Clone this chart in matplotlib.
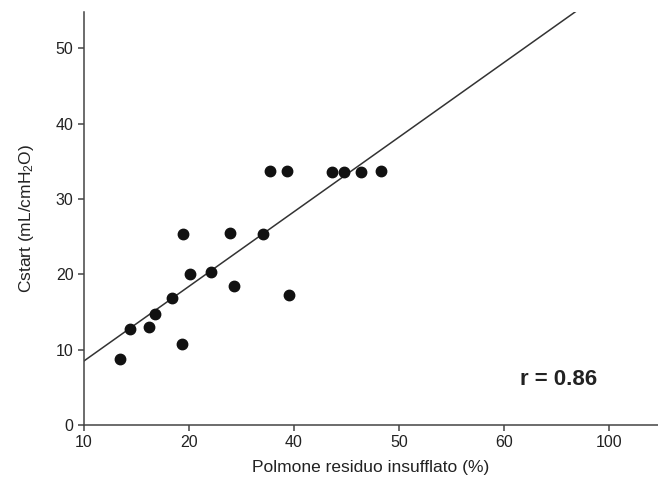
import matplotlib
matplotlib.use("Agg")
import matplotlib.pyplot as plt
from matplotlib import font_manager as fm
import numpy as np
import os

plt.rcParams['font.family'] = ['Liberation Sans', 'DejaVu Sans']
plt.rcParams['mathtext.default'] = 'regular'

# dati (asse x in posizione di tick, etichette come nell'originale)
polmone = [13.4, 14.4, 16.2, 16.8, 18.4, 19.3, 19.4, 20.1, 22.1, 23.9,
           24.3, 27.0, 27.7, 29.3, 29.5, 33.6, 34.8, 36.4, 38.3]
cstart = [8.7, 12.7, 13.0, 14.7, 16.8, 10.8, 25.3, 20.0, 20.3, 25.5,
          18.5, 25.3, 33.7, 33.7, 17.2, 33.5, 33.5, 33.5, 33.7]

xtick_pos = [10, 20, 30, 40, 50, 60]
xtick_labels = ['10', '20', '40', '50', '60', '100']
ytick_pos = [0, 10, 20, 30, 40, 50]

fit_slope = 0.99
fit_intercept = -1.4

# Liberation Sans Bold (evita la variante Narrow)
bold_fp = fm.FontProperties(family='DejaVu Sans', weight='bold')
for f in fm.fontManager.ttflist:
    base = os.path.basename(f.fname)
    if base.lower() == 'liberationsans-bold.ttf':
        bold_fp = fm.FontProperties(fname=f.fname)
        break
bold_fp.set_size(16)

fig = plt.figure(figsize=(6.58, 4.90), dpi=100)
ax = fig.add_axes([0.1277, 0.1327, 0.8723, 0.8429])

ax.plot(polmone, cstart, 'o', color='#111111', markersize=7.5, zorder=3)

xl = np.array([10, 70])
ax.plot(xl, fit_slope * xl + fit_intercept, '-', color='#333333', lw=1.1)

ax.set_xlim(10, 64.66)
ax.set_ylim(0, 54.8)
ax.set_xticks(xtick_pos)
ax.set_xticklabels(xtick_labels)
ax.set_yticks(ytick_pos)

for s in ['top', 'right']:
    ax.spines[s].set_visible(False)
for s in ['left', 'bottom']:
    ax.spines[s].set_color('#444444')
    ax.spines[s].set_linewidth(1.1)
ax.tick_params(colors='#444444', labelcolor='#222222', labelsize=11.5,
               length=4, width=1.1)

ax.set_xlabel('Polmone residuo insufflato (%)', fontsize=12.5, color='#222222',
              labelpad=7)
ax.set_ylabel('Cstart (mL/cmH$_2$O)', fontsize=12.5, color='#222222',
              labelpad=14)

ax.text(0.8275, 0.109, 'r = 0.86', transform=ax.transAxes,
        fontproperties=bold_fp, color='#222222', ha='center', va='center')

fig.savefig('out.png', dpi=100)
